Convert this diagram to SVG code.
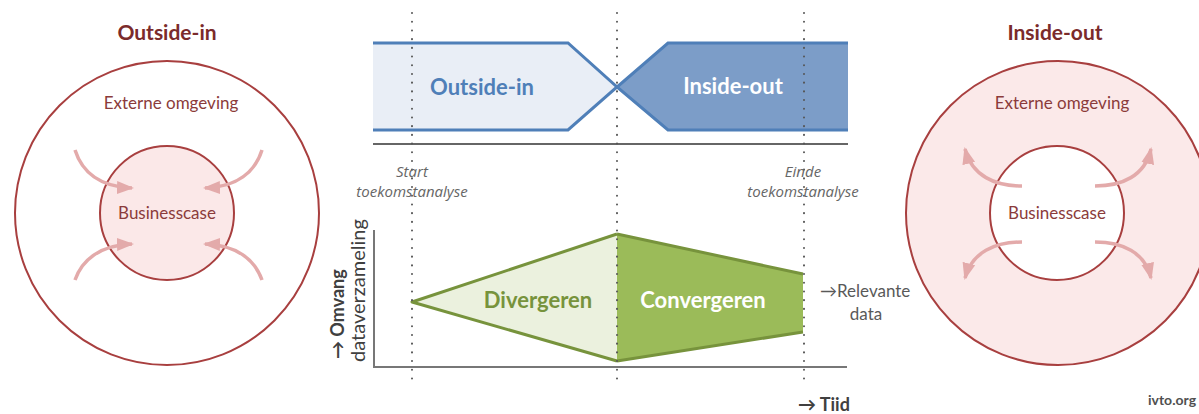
<svg xmlns="http://www.w3.org/2000/svg" width="1199" height="414" viewBox="0 0 1199 414">
<style>
.t{font-family:Lato,"Open Sans","Liberation Sans",sans-serif}
.title{font-weight:bold;font-size:21px;fill:#7b2b2b;text-anchor:middle}
.red{font-size:17px;fill:#8b3b3b;text-anchor:middle}
.circ{stroke:#a83f3f;stroke-width:2}
.arr{fill:none;stroke:#e3aaaa;stroke-width:3.5}
.band{font-weight:bold;font-size:22px;text-anchor:middle}
.it{font-family:"Open Sans","Liberation Sans",sans-serif;font-style:italic;font-size:15px;fill:#666;text-anchor:middle}
.dot{stroke:#555;stroke-width:2;stroke-linecap:round;stroke-dasharray:0.1 8.6}
.axis{stroke:#777;stroke-width:2;fill:none}
.gray{font-size:17px;fill:#595959}
</style>
<defs>
<marker id="ah" markerUnits="userSpaceOnUse" markerWidth="18" markerHeight="14" refX="15" refY="7" orient="auto" viewBox="0 0 18 14">
<path d="M0,0.5 L17,7 L0,13.5 z" fill="#e3aaaa"/>
</marker>
</defs>
<rect width="1199" height="414" fill="#fff"/>

<!-- Left: Outside-in circles -->
<g id="left-outside-in">
<text class="t title" x="167" y="40">Outside-in</text>
<circle class="circ" cx="167" cy="213" r="152" fill="#fff"/>
<circle class="circ" cx="167" cy="213" r="67" fill="#fbe8e8"/>
<text class="t red" x="171" y="109">Externe omgeving</text>
<text class="t red" x="167" y="219">Businesscase</text>
</g>

<!-- Right: Inside-out circles -->
<g id="right-inside-out">
<text class="t title" x="1055" y="40">Inside-out</text>
<circle class="circ" cx="1058" cy="213" r="152" fill="#fbe9e9"/>
<circle class="circ" cx="1057" cy="213" r="67" fill="#fff"/>
<text class="t red" x="1062" y="109">Externe omgeving</text>
<text class="t red" x="1057" y="219">Businesscase</text>
</g>

<!-- Top bands -->
<g id="band-outside-in">
<path d="M373,43 H568 L617,87 L568,130 H373 z" fill="#e9eef6"/>
<path d="M373,43 H568 L617,87 L568,130 H373" fill="none" stroke="#4f7fb8" stroke-width="3"/>
<text class="t band" x="482" y="95" fill="#4f7fb8">Outside-in</text>
</g>
<g id="band-inside-out">
<path d="M848,43 H668 L617,87 L668,130 H848 z" fill="#7c9dc8"/>
<path d="M848,43 H668 L617,87 L668,130 H848" fill="none" stroke="#4f7fb8" stroke-width="3"/>
<text class="t band" x="733" y="94" fill="#fff">Inside-out</text>
</g>

<!-- Green shapes -->
<g id="divergeren">
<path d="M412,302 L617,234 L617,361 z" fill="#ebf1de"/>
<path d="M617,234 L412,302 L617,361" fill="none" stroke="#77933c" stroke-width="3" stroke-linejoin="round"/>
<text class="t band" x="538" y="308" fill="#77933c">Divergeren</text>
</g>
<g id="convergeren">
<path d="M617,234 L803,274 L803,332 L617,361 z" fill="#9bbb59"/>
<path d="M617,234 L803,274 M803,332 L617,361" fill="none" stroke="#77933c" stroke-width="3"/>
<text class="t band" x="703" y="308" fill="#fff">Convergeren</text>
</g>

<!-- Connectors / lines -->
<g id="connectors">
<path class="arr" d="M75,150 C82,172 100,187 132,188" marker-end="url(#ah)"/>
<path class="arr" d="M262,150 C255,172 237,187 205,188" marker-end="url(#ah)"/>
<path class="arr" d="M75,280 C82,260 100,245 132,244" marker-end="url(#ah)"/>
<path class="arr" d="M262,280 C255,260 237,245 205,244" marker-end="url(#ah)"/>
<path class="arr" d="M1022,186 C995,186 972,176 965,149" marker-end="url(#ah)"/>
<path class="arr" d="M1095,186 C1122,186 1145,176 1151,149" marker-end="url(#ah)"/>
<path class="arr" d="M1022,242 C995,242 972,252 965,278" marker-end="url(#ah)"/>
<path class="arr" d="M1095,242 C1122,242 1145,252 1151,278" marker-end="url(#ah)"/>
<line x1="373" y1="144" x2="848" y2="144" stroke="#666" stroke-width="2"/>
<path class="axis" d="M374,230 V367 H847"/>
<line class="dot" x1="412" y1="13" x2="412" y2="380"/>
<line class="dot" x1="617" y1="13" x2="617" y2="380"/>
<line class="dot" x1="804" y1="13" x2="804" y2="380"/>
</g>

<!-- Labels -->
<g id="labels">
<text class="it" x="412" y="177">Start</text>
<text class="it" x="412" y="197">toekomstanalyse</text>
<text class="it" x="803" y="177">Einde</text>
<text class="it" x="803" y="197">toekomstanalyse</text>
<text class="t gray" x="820" y="297">→Relevante</text>
<text class="t gray" x="866" y="320" text-anchor="middle">data</text>
<text class="t" x="798" y="411" font-size="18" font-weight="bold" fill="#404040">→ Tiid</text>
<text class="t" transform="translate(344,359) rotate(-90)" font-size="18" font-weight="bold" fill="#404040">→ Omvang</text>
<text class="t" transform="translate(365,362) rotate(-90)" font-size="20" fill="#404040">dataverzameling</text>
<text class="t" x="1148" y="405" font-size="14" font-weight="bold" fill="#505050">ivto.org</text>
</g>
</svg>
